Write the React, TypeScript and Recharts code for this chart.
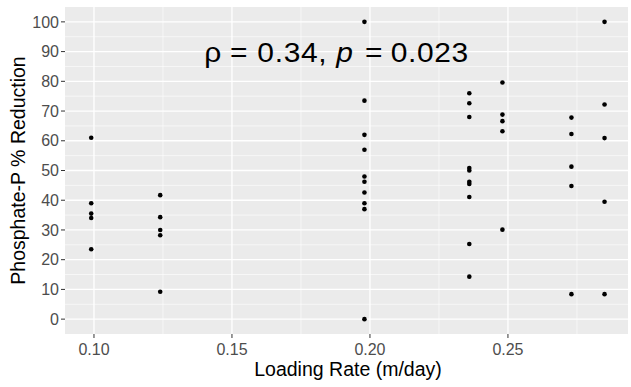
import { ScatterChart, Scatter, XAxis, YAxis, CartesianGrid, ReferenceLine, ReferenceDot } from "recharts"

// loading rate (m/day) of each filter column
const loadingRates = [0.099, 0.124, 0.198, 0.236, 0.248, 0.273, 0.285]

// phosphate-P % reduction measured at each loading rate
const reductions = [
  [61, 39, 35.5, 34, 23.5],
  [41.7, 34.3, 30, 28.2, 9.2],
  [100, 73.5, 62, 57, 48, 46.2, 42.6, 39, 37, 0],
  [76, 72.6, 68, 50.8, 50, 46.2, 45.5, 41.1, 25.3, 14.3],
  [79.6, 68.8, 66.6, 63.2, 30.1],
  [67.8, 62.3, 51.3, 44.8, 8.4],
  [100, 72.2, 60.9, 39.5, 8.4],
]

const xTicks = [0.1, 0.15, 0.2, 0.25]
const xMinor = [0.125, 0.175, 0.225, 0.275]
const yTicks = [0, 10, 20, 30, 40, 50, 60, 70, 80, 90, 100]
const yMinor = [5, 15, 25, 35, 45, 55, 65, 75, 85, 95]

const points = loadingRates.flatMap((rate, i) => reductions[i].map((r) => ({ rate, reduction: r })))

const FONT = "'Liberation Sans', Arial, sans-serif"

const Dot = (props: any) => <circle cx={props.cx} cy={props.cy} r={2.3} fill="#000" />

// spearman annotation, laid out piece by piece like plotmath does
const SX = 1.09
const Annotation = (p: any) => {
  const common = { y: 0, fontSize: 27.5, fontFamily: FONT, fill: "#000", letterSpacing: 0.6 }
  return (
    <g transform={`translate(${p.cx} ${p.cy + 10}) scale(${SX} 1)`}>
      <text x={0} {...common}>ρ</text>
      <text x={25.6 / SX} {...common}>=</text>
      <text x={53 / SX} {...common}>0.34,</text>
      <text x={132 / SX} {...common} fontStyle="italic">p</text>
      <text x={160.6 / SX} {...common}>=</text>
      <text x={186.3 / SX} {...common}>0.023</text>
    </g>
  )
}

export default function App() {
  return (
    <div style={{ position: "absolute", left: 0, top: 0, background: "#fff" }}>
      <ScatterChart width={631} height={387} margin={{ top: 7, right: 3, bottom: 0, left: 0 }}>
        <CartesianGrid fill="#EBEBEB" stroke="#fff" strokeWidth={1.3} horizontalValues={yTicks} verticalValues={xTicks} />
        {xMinor.map((v) => (
          <ReferenceLine key={`vx${v}`} x={v} stroke="#fff" strokeWidth={0.6} />
        ))}
        {yMinor.map((v) => (
          <ReferenceLine key={`hy${v}`} y={v} stroke="#fff" strokeWidth={0.6} />
        ))}
        <XAxis
          type="number"
          dataKey="rate"
          domain={[0.0895, 0.2935]}
          ticks={xTicks}
          tickFormatter={(v) => v.toFixed(2)}
          height={53}
          axisLine={false}
          tickSize={4}
          tickMargin={6}
          tickLine={{ stroke: "#333" }}
          tick={{ fill: "#4D4D4D", fontSize: 16, fontFamily: FONT }}
          allowDataOverflow
          label={{
            content: ({ viewBox }: any) => (
              <text
                x={viewBox.x + viewBox.width / 2 + 1.5}
                y={viewBox.y + 42}
                textAnchor="middle"
                fontSize={19.5}
                fontFamily={FONT}
                fill="#000"
              >
                Loading Rate (m/day)
              </text>
            ),
          }}
        />
        <YAxis
          type="number"
          dataKey="reduction"
          domain={[-5, 105]}
          ticks={yTicks}
          width={65}
          axisLine={false}
          tickSize={4}
          tickMargin={2}
          tickLine={{ stroke: "#333" }}
          tick={{ fill: "#4D4D4D", fontSize: 16, fontFamily: FONT }}
          allowDataOverflow
          label={{
            content: ({ viewBox }: any) => {
              const cx = 25
              const cy = viewBox.y + viewBox.height / 2
              return (
                <text
                  x={cx}
                  y={cy}
                  transform={`rotate(-90 ${cx} ${cy})`}
                  textAnchor="middle"
                  fontSize={19.5}
                  fontFamily={FONT}
                  fill="#000"
                >
                  Phosphate-P % Reduction
                </text>
              )
            },
          }}
        />
        <Scatter data={points} shape={Dot} isAnimationActive={false} />
        <ReferenceDot x={0.14} y={90} r={0} shape={Annotation} />
      </ScatterChart>
    </div>
  )
}
